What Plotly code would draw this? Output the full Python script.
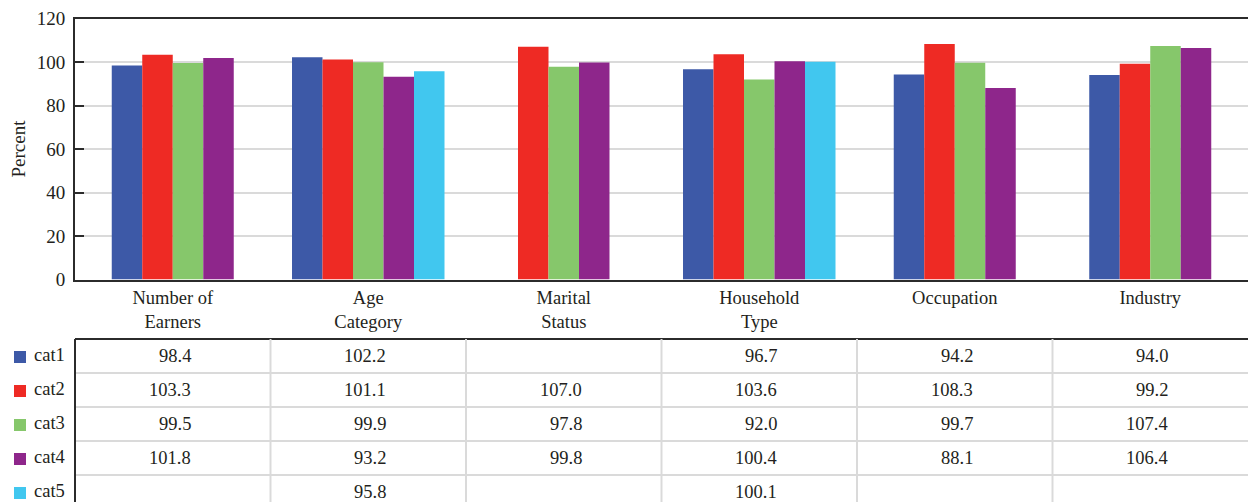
import plotly.graph_objects as go

# Categories and series values (percent)
categories = ["Number of<br>Earners", "Age<br>Category", "Marital<br>Status",
              "Household<br>Type", "Occupation", "Industry"]
series_names = ["cat1", "cat2", "cat3", "cat4", "cat5"]
cat1 = [98.4, 102.2, None, 96.7, 94.2, 94.0]
cat2 = [103.3, 101.1, 107.0, 103.6, 108.3, 99.2]
cat3 = [99.5, 99.9, 97.8, 92.0, 99.7, 107.4]
cat4 = [101.8, 93.2, 99.8, 100.4, 88.1, 106.4]
cat5 = [None, 95.8, None, 100.1, None, None]
colors = ["#3D59A7", "#EE2A24", "#86C76B", "#8E268B", "#41C7EF"]
y_ticks = [0, 20, 40, 60, 80, 100, 120]

series = [cat1, cat2, cat3, cat4, cat5]

W, H = 1248, 502
FONT = "Liberation Serif, Times New Roman, serif"
TXT = "#231F20"
DARK = "#2B2B2B"
GRID = "#DADADA"

# plot-area and table geometry in pixels
plot_left, plot_top, plot_bottom = 75, 18.5, 279.5
table_top, row_h = 339, 34
bar_w = 0.156


def py(px):
    return 1 - px / H


def px_x(px):
    return px / W


# bars in each group are packed together and centered, skipping empty values
n_groups = len(categories)
offsets = [[None] * n_groups for _ in series]
for g in range(n_groups):
    present = [s for s in range(len(series)) if series[s][g] is not None]
    n = len(present)
    for k, s in enumerate(present):
        offsets[s][g] = (-n / 2 + k) * bar_w

fig = go.Figure()
xs = list(range(n_groups))
for s, name in enumerate(series_names):
    vals = series[s]
    fig.add_trace(go.Bar(
        x=xs, y=vals, name=name, marker_color=colors[s], marker_line_width=0,
        width=[bar_w] * n_groups,
        offset=[o if o is not None else 0 for o in offsets[s]],
        showlegend=False, hoverinfo="y+name",
    ))

shapes = []
annotations = []

# table frame
col_w = (W - plot_left) / n_groups
shapes.append(dict(type="line", xref="paper", yref="paper",
                   x0=px_x(plot_left), x1=1, y0=py(table_top), y1=py(table_top),
                   line=dict(color=DARK, width=2)))
for r in range(1, len(series_names)):
    yy = py(table_top + r * row_h)
    shapes.append(dict(type="line", xref="paper", yref="paper",
                       x0=px_x(plot_left), x1=1, y0=yy, y1=yy,
                       line=dict(color=GRID, width=2)))
for c in range(1, n_groups):
    xx = px_x(plot_left + c * col_w)
    shapes.append(dict(type="line", xref="paper", yref="paper",
                       x0=xx, x1=xx, y0=py(table_top), y1=0,
                       line=dict(color=GRID, width=2)))
shapes.append(dict(type="line", xref="paper", yref="paper",
                   x0=px_x(plot_left), x1=px_x(plot_left), y0=py(table_top), y1=0,
                   line=dict(color=DARK, width=2)))

# legend keys and table values
for r, name in enumerate(series_names):
    yc = table_top + (r + 0.5) * row_h
    shapes.append(dict(type="rect", xref="paper", yref="paper",
                       x0=px_x(14), x1=px_x(26), y0=py(yc + 7), y1=py(yc - 5),
                       fillcolor=colors[r], line_width=0))
    annotations.append(dict(text=name, xref="paper", yref="paper",
                            x=px_x(32), y=py(yc - 1), xanchor="left", yanchor="middle",
                            showarrow=False, font=dict(family=FONT, size=18.5, color=TXT)))
    for g in range(n_groups):
        v = series[r][g]
        if v is None:
            continue
        annotations.append(dict(text=f"{v:.1f}", xref="x", yref="paper",
                                x=g, xshift=20, y=py(yc), xanchor="right",
                                yanchor="middle", showarrow=False,
                                font=dict(family=FONT, size=18.5, color=TXT)))

fig.update_layout(
    template="none",
    width=W, height=H,
    margin=dict(l=0, r=0, t=0, b=0, pad=0),
    paper_bgcolor="white", plot_bgcolor="white",
    barmode="overlay",
    font=dict(family=FONT, size=18.5, color=TXT),
    xaxis=dict(
        automargin=False,
        domain=[px_x(plot_left), 1], range=[-0.5, n_groups - 0.5],
        tickvals=xs, ticktext=categories, ticks="",
        showline=True, linecolor=DARK, linewidth=2, mirror=True,
        showgrid=False, zeroline=False,
        tickfont=dict(family=FONT, size=18.5, color=TXT),
    ),
    yaxis=dict(
        automargin=False,
        domain=[py(plot_bottom), py(plot_top)], range=[0, 120],
        tickvals=y_ticks, ticks="inside", ticklen=9, tickwidth=2, tickcolor=DARK,
        showline=True, linecolor=DARK, linewidth=2,
        showgrid=True, gridcolor=GRID, gridwidth=2, zeroline=False,
        ticklabelstandoff=4,
        tickfont=dict(family=FONT, size=19, color=TXT),
        title=dict(text="Percent", font=dict(family=FONT, size=19, color=TXT), standoff=6),
    ),
    shapes=shapes,
    annotations=annotations,
)

fig.write_html("out.html")
